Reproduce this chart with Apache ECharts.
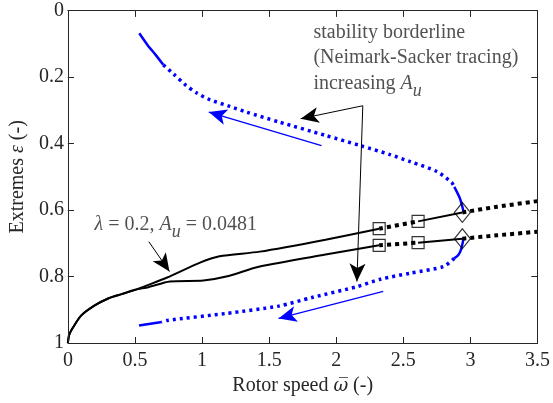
<!DOCTYPE html>
<html>
<head>
<meta charset="utf-8">
<script src="https://cdn.jsdelivr.net/npm/echarts@6/dist/echarts.min.js"></script>
<style>
  html, body { margin: 0; padding: 0; background: #fff; }
  #chart { width: 553px; height: 403px; }
</style>
</head>
<body>
<div id="chart"></div>
<script>
// stability borderline (Neimark-Sacker), split into solid / dotted pieces
const blueTopSolidA = [[0.532, 0.068], [0.593, 0.103], [0.654, 0.133], [0.711, 0.163]]
const blueTopDotted = [[0.711, 0.163], [0.789, 0.191], [0.875, 0.223], [0.961, 0.248], [1.059, 0.268],
  [1.206, 0.288], [1.329, 0.305], [1.574, 0.335], [1.917, 0.375], [2.18, 0.406], [2.4, 0.433],
  [2.55, 0.454], [2.75, 0.484], [2.86, 0.517], [2.88, 0.53]]
const blueTopSolidB = [[2.88, 0.53], [2.92, 0.563], [2.94, 0.59], [2.95, 0.607]]
const blueBotSolidB = [[2.95, 0.683], [2.93, 0.719], [2.91, 0.735], [2.88, 0.745]]
const blueBotDotted = [[2.88, 0.745], [2.8, 0.77], [2.55, 0.79], [2.33, 0.808], [2.16, 0.83],
  [1.82, 0.863], [1.57, 0.889], [1.18, 0.911], [0.74, 0.932], [0.70, 0.937]]
const blueBotSolidA = [[0.70, 0.937], [0.53, 0.947]]

// extremes for lambda = 0.2, Au = 0.0481
const blackCommon = [[0, 1], [0.01, 0.975], [0.04, 0.952], [0.1, 0.917], [0.2, 0.887],
  [0.3, 0.866], [0.4, 0.853], [0.5, 0.84]]
const blackUpper = [[0.6, 0.825], [0.74, 0.803], [0.985, 0.758], [1.13, 0.739], [1.43, 0.725],
  [1.92, 0.689], [2.32, 0.656]]
const blackLower = [[0.6, 0.832], [0.76, 0.815], [1.01, 0.812], [1.18, 0.8], [1.43, 0.77],
  [1.92, 0.734], [2.32, 0.706]]
const blackUpperDot1 = [[2.32, 0.656], [2.61, 0.634]]
const blackLowerDot1 = [[2.32, 0.706], [2.61, 0.698]]
const blackUpperSolid2 = [[2.61, 0.634], [2.94, 0.607]]
const blackLowerSolid2 = [[2.61, 0.698], [2.94, 0.686]]
const blackUpperDot2 = [[2.94, 0.607], [3.2, 0.59], [3.5, 0.573]]
const blackLowerDot2 = [[2.94, 0.686], [3.2, 0.676], [3.5, 0.665]]

const squarePts = [[2.32, 0.656], [2.61, 0.634], [2.32, 0.706], [2.61, 0.698]]
const diamondPts = [[2.94, 0.607], [2.94, 0.686]]

// tick positions of the box frame
const xTickVals = [0.5, 1, 1.5, 2, 2.5, 3]
const yTickVals = [0.2, 0.4, 0.6, 0.8]

// annotations
const noteBorder = [1.83, 0.142]
const noteLambda = [0.199, 0.644]
const noteVertex = [2.198, 0.286]
const noteTips = [[1.735, 0.325], [2.154, 0.815]]
const lambdaArrow = [[0.603, 0.695], [0.757, 0.785]]
const blueArrowUp = [[1.89, 0.406], [1.05, 0.305]]
const blueArrowDown = [[2.35, 0.845], [1.57, 0.926]]

const font = 'Liberation Serif'
const ink = '#262626'
const blue = '#0000ff'

const chart = echarts.init(document.getElementById('chart'))

const rich = {
  i: { fontFamily: font, fontSize: 20, fontStyle: 'italic', color: ink },
  w: { fontFamily: 'DejaVu Serif', fontSize: 18, fontStyle: 'italic', color: ink },
  sub: { fontFamily: font, fontSize: 18, fontStyle: 'italic', color: ink, padding: [16, 0, 0, 0] }
}

function curve(data, color, dotted, width) {
  return {
    type: 'line',
    data: data,
    showSymbol: false,
    symbol: 'none',
    smooth: 0.25,
    silent: true,
    lineStyle: {
      color: color,
      width: width,
      type: dotted ? (color === blue ? [3, 4] : [4, 4]) : 'solid',
      cap: 'butt'
    },
    z: 2
  }
}

// box axis: fresh objects for each side
function frameAxis(extra) {
  return Object.assign({
    type: 'value',
    z: 10,
    axisLine: { show: true, onZero: false, lineStyle: { color: ink, width: 1 } },
    axisTick: { show: true, inside: true, length: 6, lineStyle: { color: ink, width: 1 } },
    splitLine: { show: false }
  }, extra)
}

// inward tick marks (6 px) along all four sides of the frame
const tickLenX = 6 / 136
const tickLenY = 6 / 332
const frameTicks = []
xTickVals.forEach(function (v) {
  frameTicks.push([{ coord: [v, 1] }, { coord: [v, 1 - tickLenY] }])
  frameTicks.push([{ coord: [v, 0] }, { coord: [v, tickLenY] }])
})
yTickVals.forEach(function (v) {
  frameTicks.push([{ coord: [0, v] }, { coord: [tickLenX, v] }])
  frameTicks.push([{ coord: [3.5, v] }, { coord: [3.5 - tickLenX, v] }])
})

const options = {
  animation: false,
  grid: { left: 66, right: 11, top: 10.7, bottom: 60 },
  xAxis: [frameAxis({
    min: 0, max: 3.5, interval: 0.5,
    axisLabel: { fontFamily: font, fontSize: 20, color: ink, margin: 8 },
    name: 'Rotor speed {w|ω\u0305} (-)',
    nameLocation: 'middle',
    nameGap: 30,
    nameTextStyle: { fontFamily: font, fontSize: 20, color: ink, rich: rich }
  }), frameAxis({
    position: 'top',
    min: 0, max: 3.5, interval: 0.5,
    axisLabel: { show: false }
  })],
  yAxis: [frameAxis({
    inverse: true,
    min: 0, max: 1, interval: 0.2,
    axisLabel: { fontFamily: font, fontSize: 20, color: ink, margin: 4 },
    name: 'Extremes {i|ε} (-)',
    nameLocation: 'middle',
    nameGap: 38,
    nameTextStyle: { fontFamily: font, fontSize: 20, color: ink, rich: rich }
  }), frameAxis({
    position: 'right',
    inverse: true,
    min: 0, max: 1, interval: 0.2,
    axisLabel: { show: false }
  })],
  series: [
    curve(blueTopSolidA, blue, false, 2.5),
    curve(blueTopDotted, blue, true, 3.5),
    curve(blueTopSolidB, blue, false, 2.5),
    curve(blueBotSolidB, blue, false, 2.5),
    curve(blueBotDotted, blue, true, 3.5),
    curve(blueBotSolidA, blue, false, 2.5),
    curve(blackCommon.concat(blackUpper), '#000', false, 2),
    curve(blackCommon.concat(blackLower), '#000', false, 2),
    curve(blackUpperDot1, '#000', true, 4),
    curve(blackLowerDot1, '#000', true, 4),
    curve(blackUpperSolid2, '#000', false, 2),
    curve(blackLowerSolid2, '#000', false, 2),
    curve(blackUpperDot2, '#000', true, 4),
    curve(blackLowerDot2, '#000', true, 4),
    {
      type: 'scatter',
      data: squarePts,
      symbol: 'rect',
      symbolSize: 12,
      silent: true,
      itemStyle: { color: 'rgba(0,0,0,0)', borderColor: '#000', borderWidth: 1.2 },
      markLine: {
        silent: true,
        animation: false,
        symbol: ['none', 'none'],
        label: { show: false },
        emphasis: { disabled: true },
        lineStyle: { color: ink, width: 1, type: 'solid' },
        data: frameTicks
      },
      z: 4
    },
    {
      type: 'scatter',
      data: diamondPts,
      symbol: 'diamond',
      symbolSize: [16, 20],
      silent: true,
      itemStyle: { color: 'rgba(0,0,0,0)', borderColor: '#000', borderWidth: 1.2 },
      z: 4
    },
    {
      type: 'scatter',
      symbolSize: 0,
      silent: true,
      data: [
        {
          value: noteBorder,
          label: {
            formatter: 'stability borderline\n(Neimark-Sacker tracing)\nincreasing {i|A}{sub|u}',
            lineHeight: 25.5
          }
        },
        {
          value: noteLambda,
          label: { formatter: '{i|λ} = 0.2, {i|A}{sub|u} = 0.0481' }
        }
      ],
      label: {
        show: true,
        position: 'right',
        distance: 0,
        align: 'left',
        fontFamily: font,
        fontSize: 20,
        color: ink,
        rich: rich
      },
      markLine: {
        silent: true,
        animation: false,
        symbol: ['none', 'arrow'],
        symbolSize: [12, 18],
        label: { show: false },
        emphasis: { disabled: true },
        lineStyle: { color: '#000', width: 1, type: 'solid' },
        data: [
          [{ coord: noteVertex }, { coord: noteTips[0] }],
          [{ coord: noteVertex }, { coord: noteTips[1] }],
          [{ coord: lambdaArrow[0] }, { coord: lambdaArrow[1] }],
          [{ coord: blueArrowUp[0], lineStyle: { color: blue, width: 1.3 } }, { coord: blueArrowUp[1] }],
          [{ coord: blueArrowDown[0], lineStyle: { color: blue, width: 1.3 } }, { coord: blueArrowDown[1] }]
        ]
      },
      z: 5
    }
  ]
}
chart.setOption(options)
</script>
</body>
</html>
